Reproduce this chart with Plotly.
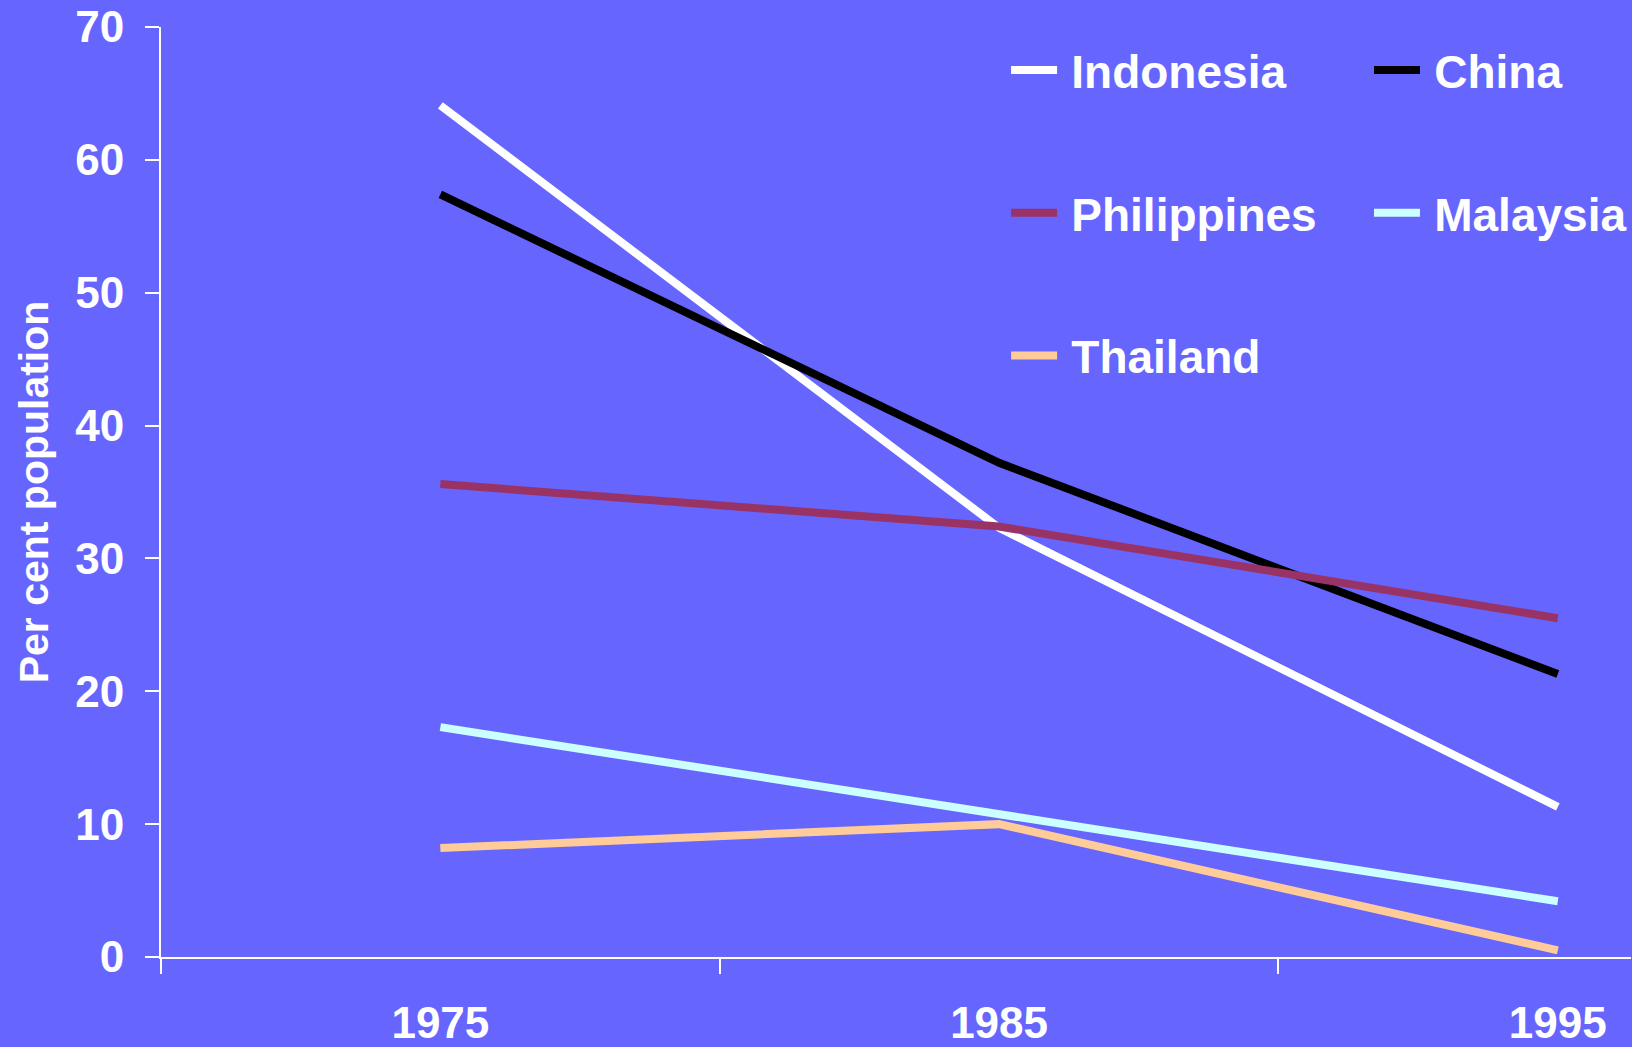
import plotly.graph_objects as go

years = ["1975", "1985", "1995"]

indonesia = [64.1, 32.3, 11.3]
china = [57.4, 37.2, 21.3]
philippines = [35.6, 32.4, 25.5]
malaysia = [17.3, 10.8, 4.2]
thailand = [8.2, 10.0, 0.5]

BG = "#6666FF"
FONT = "Arial, Liberation Sans, sans-serif"

# name, values, colour, which legend box
series = [
    ("Indonesia", indonesia, "#FFFFFF", "legend"),
    ("China", china, "#000000", "legend2"),
    ("Philippines", philippines, "#993366", "legend"),
    ("Malaysia", malaysia, "#CCFFFF", "legend2"),
    ("Thailand", thailand, "#FFCC99", "legend"),
]

fig = go.Figure()
for name, vals, colour, leg in series:
    fig.add_trace(go.Scatter(
        x=years, y=vals,
        mode="lines",
        name="\u2009" + name,  # thin space: a bit more room after the legend line
        line=dict(color=colour, width=8),
        legend=leg,
        legendgroup=name,
        hovertemplate=f"{name} %{{x}}: %{{y}}<extra></extra>",
    ))

legend_style = dict(
    font=dict(family=FONT, size=46, color="white", weight="bold"),
    bgcolor="rgba(0,0,0,0)",
    tracegroupgap=80,
    itemwidth=46,
    xanchor="left", yanchor="top",
    y=0.993,
)

fig.update_layout(
    width=1632, height=1047,
    paper_bgcolor=BG, plot_bgcolor=BG,
    margin=dict(l=161, r=0, t=27, b=90),
    font=dict(family=FONT, color="white", size=44, weight="bold"),
    showlegend=True,
    legend=dict(x=0.5745, **legend_style),
    legend2=dict(x=0.8215, **legend_style),
    xaxis=dict(
        type="category",
        range=[-0.5, 2.131],
        tickson="boundaries",
        showline=True, linecolor="white", linewidth=2,
        ticks="outside", ticklen=15, tickwidth=2, tickcolor="white",
        ticklabelstandoff=26,
        showgrid=False, zeroline=False,
        automargin=False,
        tickfont=dict(family=FONT, size=44, color="white", weight="bold"),
    ),
    yaxis=dict(
        range=[0, 70], dtick=10,
        showline=True, linecolor="white", linewidth=2,
        ticks="outside", ticklen=14, tickwidth=2, tickcolor="white",
        ticklabelstandoff=12,
        showgrid=False, zeroline=False,
        automargin=False,
        tickfont=dict(family=FONT, size=44, color="white", weight="bold"),
        title=dict(text="Per cent population", standoff=14,
                   font=dict(family=FONT, size=41, color="white", weight="bold")),
    ),
)

# drop the browser's default page margin so the chart fills the window
fig.write_html("out.html", config={"displayModeBar": False},
               post_script="document.body.style.margin='0';")
